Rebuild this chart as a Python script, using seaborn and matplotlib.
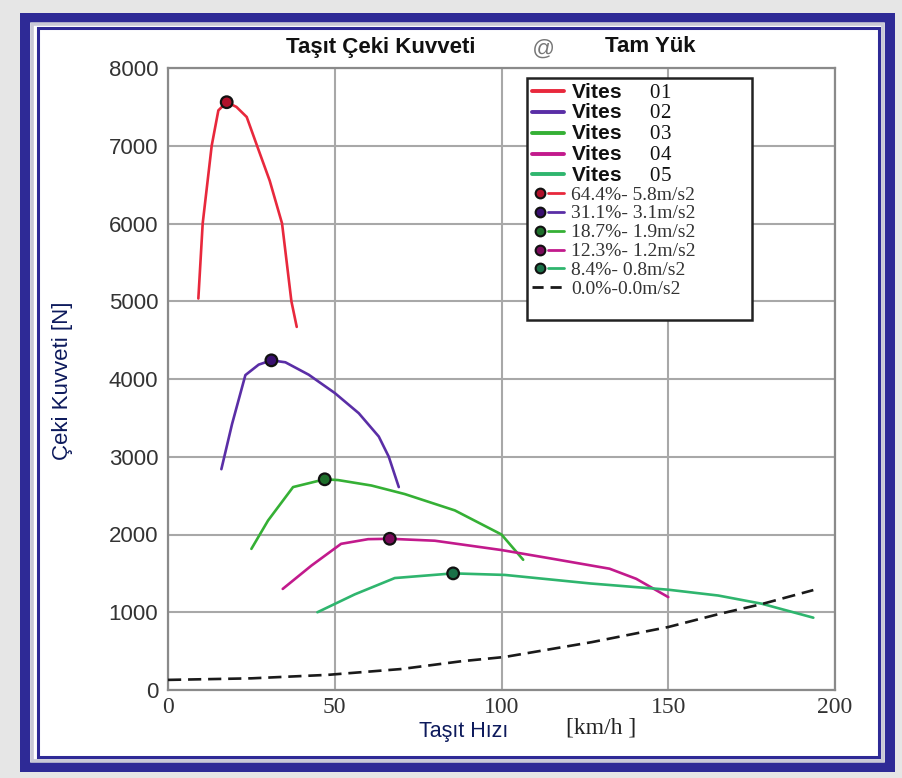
import matplotlib
matplotlib.use("Agg")
import matplotlib.pyplot as plt
import seaborn as sns
from matplotlib.lines import Line2D
from matplotlib.patches import Rectangle
from matplotlib.legend_handler import HandlerTuple

# ---------------- data ----------------
speed1 = [9.1, 10.4, 13.1, 15.1, 17.6, 20.5, 23.6, 26.7, 30.5, 34.2, 37.0, 38.6]
force1 = [5035, 6000, 7000, 7455, 7560, 7500, 7370, 7000, 6550, 6000, 5000, 4670]

speed2 = [16.0, 19.2, 23.2, 27.2, 31.0, 35.2, 42.2, 50.0, 57.2, 63.2, 66.2, 69.2]
force2 = [2840, 3420, 4050, 4185, 4240, 4215, 4055, 3820, 3560, 3260, 3000, 2610]

speed3 = [25.0, 30.0, 37.5, 47.0, 51.0, 61.0, 71.0, 86.0, 100.0, 106.5]
force3 = [1815, 2180, 2610, 2710, 2700, 2630, 2520, 2310, 2000, 1675]

speed4 = [34.4, 43.0, 51.9, 60.0, 66.5, 80.0, 100.0, 115.0, 132.4, 140.4, 150.0]
force4 = [1300, 1600, 1880, 1940, 1945, 1920, 1800, 1690, 1560, 1430, 1195]

speed5 = [44.8, 56.0, 68.0, 85.5, 101.0, 126.7, 150.0, 165.0, 178.0, 193.5]
force5 = [1000, 1230, 1440, 1500, 1480, 1370, 1290, 1215, 1110, 930]

speed_res = [0, 25, 48, 70, 88, 101, 114, 127, 150, 165, 178, 193.5]
force_res = [130, 150, 195, 270, 370, 425, 520, 615, 810, 975, 1105, 1285]

peak_speed = [17.6, 31.0, 47.0, 66.5, 85.5]
peak_force = [7560, 4240, 2710, 1945, 1500]

gear_labels = ["01", "02", "03", "04", "05"]
grade_labels = ["64.4%- 5.8m/s2", "31.1%- 3.1m/s2", "18.7%- 1.9m/s2",
                "12.3%- 1.2m/s2", "8.4%- 0.8m/s2", "0.0%-0.0m/s2"]

xticks = [0, 50, 100, 150, 200]
yticks = [0, 1000, 2000, 3000, 4000, 5000, 6000, 7000, 8000]

line_colors = ["#e8283c", "#5a2ea6", "#35b035", "#c21a8c", "#2fb56e"]
marker_colors = ["#b0102a", "#3a1070", "#1d6e2a", "#7a0a5a", "#1a7048"]

# ---------------- style ----------------
sns.set_theme(style="white")
plt.rcParams["font.family"] = ["Liberation Sans", "DejaVu Sans"]
plt.rcParams["mathtext.fontset"] = "custom"
plt.rcParams["mathtext.rm"] = "Liberation Serif"

W, H = 902, 778
fig = plt.figure(figsize=(W / 100, H / 100), dpi=100, facecolor="#e6e6e6")

def frame(x0, y0, x1, y1, **kw):
    fig.patches.append(Rectangle((x0 / W, 1 - y1 / H), (x1 - x0) / W, (y1 - y0) / H,
                                 transform=fig.transFigure, **kw))

frame(25, 17.5, 890, 767, facecolor="white", edgecolor="#2e2a96", lw=7.2, zorder=-3)
frame(32, 23.5, 883, 760.5, fill=False, edgecolor="#c9c9d6", lw=2.6, zorder=-2)
frame(37.5, 27.5, 878.5, 756.5, fill=False, edgecolor="#2e2a96", lw=2.2, zorder=-1)

ax = fig.add_axes([168 / W, 1 - 690 / H, (835 - 168) / W, (690 - 68) / H])
ax.set_zorder(5)
ax.set_facecolor("white")

gears = [(speed1, force1), (speed2, force2), (speed3, force3), (speed4, force4), (speed5, force5)]
for (sx, fy), c in zip(gears, line_colors):
    sns.lineplot(x=sx, y=fy, ax=ax, color=c, lw=1.9, sort=False, estimator=None, zorder=3)

sns.lineplot(x=speed_res, y=force_res, ax=ax, color="#1a1a1a", lw=1.9, sort=False,
             estimator=None, zorder=3, linestyle=(0, (5, 2.6)))

sns.scatterplot(x=peak_speed, y=peak_force, hue=list(range(5)), palette=marker_colors,
                ax=ax, s=70, edgecolor="#111111", linewidth=1.6, legend=False, zorder=5)

ax.set_xlim(0, 200)
ax.set_ylim(0, 8000)
ax.set_xticks(xticks)
ax.set_yticks(yticks)
ax.set_xticklabels([str(v) for v in xticks], fontfamily="Liberation Serif", fontsize=17,
                   color="#333333")
ax.set_yticklabels([str(v) for v in yticks], fontfamily="Liberation Sans", fontsize=16,
                   color="#333333")
ax.tick_params(axis="both", length=0)
ax.tick_params(axis="y", pad=7)
ax.tick_params(axis="x", pad=5)
ax.grid(True, color="#a8a8a8", lw=1.5)
ax.set_axisbelow(True)
for sp in ax.spines.values():
    sp.set_color("#8a8a8a")
    sp.set_linewidth(1.6)
    sp.set_visible(True)
ax.set_xlabel("")
ax.set_ylabel("")

# ---------------- legend ----------------
handles, labels = [], []
for c, g in zip(line_colors, gear_labels):
    handles.append(Line2D([], [], color=c, lw=2.8))
    labels.append("Vites     $\\mathrm{" + g + "}$")
for c, mc, g in zip(line_colors, marker_colors, grade_labels[:5]):
    m = Line2D([], [], ls="none", marker="o", markersize=7, markerfacecolor=mc,
               markeredgecolor="#111111", markeredgewidth=1.5)
    l = Line2D([], [], color=c, lw=2.0)
    handles.append((m, l))
    labels.append(g)
handles.append(Line2D([], [], color="#1a1a1a", lw=2.0, linestyle=(0, (4, 2.5))))
labels.append(grade_labels[5])
handles.append(Line2D([], [], color="none"))
labels.append(" ")

leg = ax.legend(handles, labels, loc="upper left",
                bbox_to_anchor=((527 - 168) / 667, (690 - 78) / 622, (752 - 527) / 667, 0),
                mode="expand", handler_map={tuple: HandlerTuple(ndivide=None, pad=0.0)},
                handlelength=1.8, handletextpad=0.4, labelspacing=0.1, borderpad=0.25,
                borderaxespad=0, fancybox=False, framealpha=1, edgecolor="#222222",
                fontsize=13)
leg.get_frame().set_linewidth(1.8)
texts = leg.get_texts()
for t in texts[:5]:
    t.set_fontweight("bold")
    t.set_fontfamily("Liberation Sans")
    t.set_fontsize(15)
    t.set_color("#111111")
for t in texts[5:11]:
    t.set_fontfamily("Liberation Serif")
    t.set_fontsize(14)
    t.set_color("#333333")
texts[11].set_fontsize(9)

# ---------------- titles and labels ----------------
fig.text(381 / W, 1 - 47 / H, "Taşıt Çeki Kuvveti", ha="center", va="center",
         fontsize=16, fontweight="bold", color="#111111")
fig.text(543 / W, 1 - 49 / H, "@", ha="center", va="center", fontsize=16,
         fontstyle="italic", color="#777777")
fig.text(650 / W, 1 - 47 / H, "Tam Yük", ha="center", va="center",
         fontsize=16, fontweight="bold", color="#111111")

fig.text(63 / W, 1 - 381 / H, "Çeki Kuvveti [N]", ha="center", va="center",
         rotation=90, fontsize=16, color="#0d1a5c")

fig.text(464 / W, 1 - 731 / H, "Taşıt Hızı", ha="center", va="center",
         fontsize=15.5, color="#0d1a5c")
fig.text(601 / W, 1 - 728 / H, "[km/h ]", ha="center", va="center",
         fontsize=17, fontfamily="Liberation Serif", color="#222222")

fig.savefig("out.png", dpi=100, facecolor=fig.get_facecolor())
